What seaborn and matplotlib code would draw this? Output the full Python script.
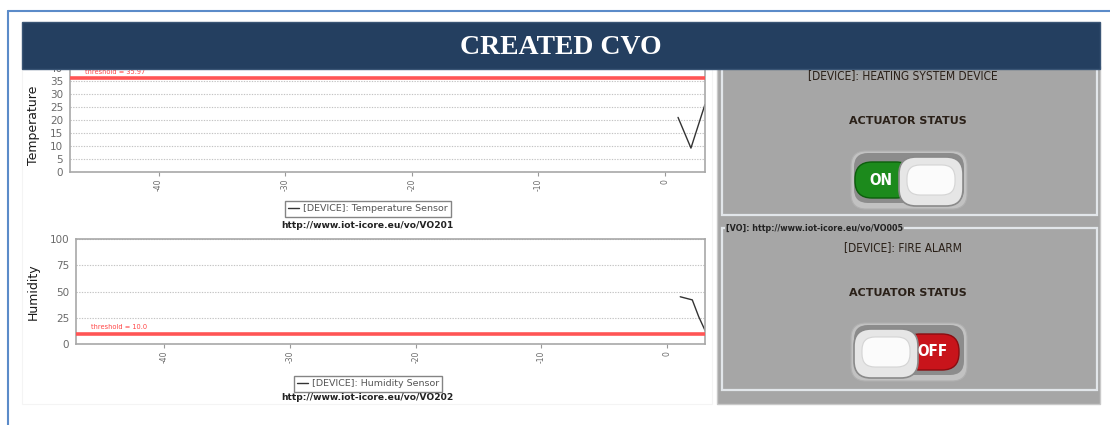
import numpy as np
import pandas as pd
import matplotlib
matplotlib.use("Agg")
import matplotlib.pyplot as plt
from matplotlib.patches import Rectangle, FancyBboxPatch
import seaborn as sns

# sensor readings (seconds relative to now)
temp_t = [1.03, 2.05, 3.16]
temp_v = [21.0, 9.2, 26.0]
hum_t = [1.03, 1.99, 2.5, 3.0]
hum_v = [45.0, 42.0, 26.0, 13.0]

temp_threshold = 35.97
hum_threshold = 10.0

x_ticks = [-40, -30, -20, -10, 0]
temp_yticks = [0, 5, 10, 15, 20, 25, 30, 35, 40]
hum_yticks = [0, 25, 50, 75, 100]

temp_label = "[DEVICE]: Temperature Sensor"
hum_label = "[DEVICE]: Humidity Sensor"
temp_url = "http://www.iot-icore.eu/vo/VO201"
hum_url = "http://www.iot-icore.eu/vo/VO202"
act_url = "[VO]: http://www.iot-icore.eu/vo/VO005"
act_devices = ["[DEVICE]: HEATING SYSTEM DEVICE", "[DEVICE]: FIRE ALARM"]
act_states = [True, False]

sns.set_style("white")
plt.rcParams['font.family'] = ['DejaVu Sans']

W, H = 1110, 425
fig = plt.figure(figsize=(W / 100, H / 100), dpi=100)
fig.patch.set_facecolor('white')


def box(l, t, r, b):
    return [l / W, 1 - b / H, (r - l) / W, (b - t) / H]


def style_chart(ax, xlim, ylim, yticks, ylabel, thr, thr_txt, thr_y):
    ax.set_xlim(*xlim)
    ax.set_ylim(*ylim)
    ax.set_yticks(yticks)
    ax.set_xticks(x_ticks)
    ax.set_xticklabels([str(v) for v in x_ticks], rotation=90)
    ax.tick_params(axis='y', labelsize=7.5, labelcolor='#6a6a6a', length=3,
                   color='#999999', pad=2)
    ax.tick_params(axis='x', labelsize=5.5, labelcolor='#6a6a6a', length=3,
                   color='#999999', pad=2, bottom=True)
    ax.yaxis.grid(True, ls=(0, (1.2, 1.2)), color='#c4c4c4', lw=0.8)
    ax.xaxis.grid(False)
    for s in ax.spines.values():
        s.set_color('#a8a8a8')
        s.set_linewidth(1.2)
    ax.set_ylabel(ylabel, fontsize=9, color='#1a1a1a', labelpad=2)
    ax.set_xlabel('')
    ax.axhline(thr, color='#ff5555', lw=2.6, zorder=3)
    ax.text(-45.8, thr_y, thr_txt, fontsize=4.8, color='#ff4444',
            ha='left', va='center')


# temperature chart
ax_t = fig.add_axes(box(70, 68, 705, 172))
sns.lineplot(x=temp_t, y=temp_v, ax=ax_t, color='#333333', lw=1.0,
             label=temp_label)
style_chart(ax_t, (-47.0, 3.16), (0, 40), temp_yticks, 'Temperature',
            temp_threshold, 'threshold = 35.97', 38.3)
ax_t.yaxis.set_label_coords(-0.048, 0.45)

# humidity chart
ax_h = fig.add_axes(box(76, 239, 705, 344))
sns.lineplot(x=hum_t, y=hum_v, ax=ax_h, color='#333333', lw=1.0,
             label=hum_label)
style_chart(ax_h, (-47.0, 3.0), (0, 100), hum_yticks, 'Humidity',
            hum_threshold, 'threshold = 10.0', 16)
ax_h.yaxis.set_label_coords(-0.058, 0.5)

for ax, cy, url_y, url in [(ax_t, 209, 225, temp_url), (ax_h, 384, 398, hum_url)]:
    leg = ax.legend(loc='center', bbox_to_anchor=(368 / W, 1 - cy / H),
                    bbox_transform=fig.transFigure, fontsize=6.8,
                    handlelength=1.2, handletextpad=0.4, borderpad=0.35,
                    fancybox=False, frameon=True, labelcolor='#555555')
    leg.get_frame().set_edgecolor('#666666')
    leg.get_frame().set_linewidth(1.0)
    fig.text(367 / W, 1 - url_y / H, url, fontsize=6.6, fontweight='bold',
             color='#222222', ha='center', va='center')

# overlay in pixel coordinates for the dashboard widgets
ov = fig.add_axes([0, 0, 1, 1], zorder=10)
ov.set_xlim(0, W)
ov.set_ylim(H, 0)
ov.axis('off')
ov.patch.set_alpha(0)

# outer frame
ov.plot([8, W], [11, 11], color='#5b8bc9', lw=1.5)
ov.plot([8, 8], [11, H], color='#5b8bc9', lw=1.5)
ov.add_patch(Rectangle((22, 69), 690, 335, fc='none', ec='#f4f4f4', lw=0.8))

# actuator panel
ov.add_patch(Rectangle((717, 66), 383, 338, fc='#a6a6a6', ec='#c9c9c9', lw=1))
ov.add_patch(Rectangle((722, 60), 375, 155, fc='none', ec='#e2e6ea', lw=1.6))
ov.add_patch(Rectangle((722, 228), 375, 162, fc='none', ec='#e2e6ea', lw=1.6))
ov.text(726, 228, act_url, fontsize=5.8, fontweight='bold', color='#222222',
        ha='left', va='center',
        bbox=dict(fc='#a6a6a6', ec='none', pad=0.6))

# title banner
ov.add_patch(Rectangle((22, 22), 1078, 47, fc='#243f60', ec='#3a5575', lw=1))
ov.text(561, 47, 'CREATED CVO', fontsize=20, fontweight='bold',
        family='Liberation Serif', color='white', ha='center', va='center')


def toggle(cy, on):
    ov.add_patch(FancyBboxPatch((851, cy - 29), 116, 58,
                                boxstyle='round,pad=0,rounding_size=15',
                                fc='#c2c2c2', ec='#b0b0b0', lw=0.8))
    ov.add_patch(FancyBboxPatch((854, cy - 27), 110, 50,
                                boxstyle='round,pad=0,rounding_size=14',
                                fc='#8c8c8c', ec='none'))
    if on:
        pill, pc, ec, txt, tx = (855, 58), '#1c8a1c', '#0c5e0c', 'ON', 881
        kx = 899
    else:
        pill, pc, ec, txt, tx = (903, 56), '#c8141b', '#8a0c10', 'OFF', 932
        kx = 854
    ov.add_patch(FancyBboxPatch((pill[0], cy - 18), pill[1], 36,
                                boxstyle='round,pad=0,rounding_size=17',
                                fc=pc, ec=ec, lw=1))
    ov.text(tx, cy, txt, fontsize=11, fontweight='bold', color='white',
            ha='center', va='center', fontstretch='condensed')
    ov.add_patch(FancyBboxPatch((kx, cy - 23), 64, 49,
                                boxstyle='round,pad=0,rounding_size=17',
                                fc='#e6e6e6', ec='#8a8a8a', lw=1.2))
    ov.add_patch(FancyBboxPatch((kx + 8, cy - 15), 48, 30,
                                boxstyle='round,pad=0,rounding_size=13',
                                fc='#fbfbfb', ec='#d4d4d4', lw=0.8))


for (dev_y, stat_y, cy), dev, on in zip([(76, 121, 180), (248, 293, 352)],
                                       act_devices, act_states):
    ov.text(903, dev_y, dev, fontsize=8.6, color='#2a2018', ha='center',
            va='center', fontstretch='condensed')
    ov.text(908, stat_y, 'ACTUATOR STATUS', fontsize=8, fontweight='bold',
            color='#2a2018', ha='center', va='center')
    toggle(cy, on)

fig.savefig('out.png', dpi=100)
